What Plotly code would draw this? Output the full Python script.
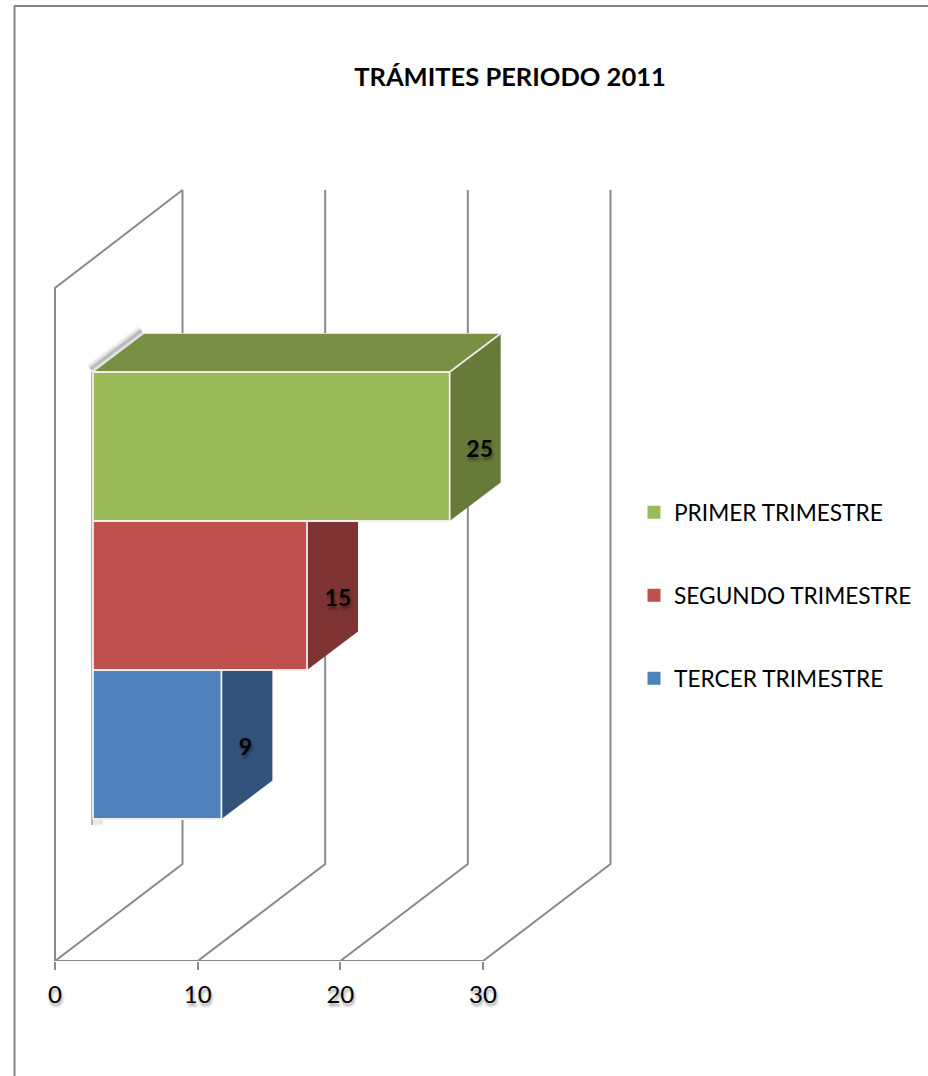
import plotly.graph_objects as go

# ---- data ----
categories = ["PRIMER TRIMESTRE", "SEGUNDO TRIMESTRE", "TERCER TRIMESTRE"]
values = [25, 15, 9]
label_shift_px = [30, 31, 24]
front_colors = ["#9BBB59", "#C0504D", "#4F81BD"]
side_colors = ["#667A3A", "#7D3432", "#31527B"]
top_colors = ["#789043", "#8E3E3C", "#3B618E"]
tick_values = [0, 10, 20, 30]
title_text = "TRÁMITES PERIODO 2011"

W, H = 928, 1076
AX_L, AX_R, AX_B, AX_T = 55, 483, 961, 6
PX_X = (AX_R - AX_L) / 30.0      # px per value unit
PX_Y = 149.0                     # px per category row
GREY = "#8A8A8A"
FONT = "Lato, Carlito, Calibri, sans-serif"
SHADOW = "1px 3px 3px rgba(0,0,0,0.4)"

# 3-D projection, expressed in axis units
wall_dx, wall_dy = 127.5 / PX_X, 97 / PX_Y
wall_front_top = (AX_B - 288) / PX_Y
wall_back_top = (AX_B - 190) / PX_Y
bar_x0 = 38 / PX_X
bar_base = (AX_B - 819) / PX_Y
bar_dx, bar_dy = 51 / PX_X, 38.5 / PX_Y

fig = go.Figure()


def line(xs, ys, color=GREY, width=2):
    fig.add_trace(go.Scatter(x=xs, y=ys, mode="lines", line=dict(color=color, width=width),
                             showlegend=False, hoverinfo="skip"))


def face(xs, ys, fill, edge="#EFEFEF", width=1.8):
    fig.add_trace(go.Scatter(x=xs + xs[:1], y=ys + ys[:1], mode="lines", fill="toself", fillcolor=fill,
                             line=dict(color=edge, width=width), showlegend=False, hoverinfo="skip"))


# axis line, walls and gridlines
line([tick_values[0], tick_values[-1]], [0, 0])
line([0, 0, wall_dx], [0, wall_front_top, wall_back_top])
for t in tick_values:
    line([t, t + wall_dx, t + wall_dx], [0, wall_dy, wall_back_top])

# soft shadow behind the first bar and the left edge
n = len(values)
top_y = bar_base + n
sx, sy = -2.5 / PX_X, 3 / PX_Y
for w, a in ((11, 0.07), (8, 0.10), (5, 0.16), (2.5, 0.28)):
    line([bar_x0 + sx, bar_x0 + bar_dx + sx], [top_y + sy, top_y + bar_dy + sy],
         color=f"rgba(110,110,110,{a})", width=w)
line([bar_x0 - 1 / PX_X, bar_x0 - 1 / PX_X], [bar_base - 6 / PX_Y, top_y], color="rgba(120,120,120,0.55)", width=2)
for w, a in ((8, 0.08), (5, 0.12)):
    line([bar_x0, bar_x0 + 10 / PX_X], [bar_base - 3 / PX_Y, bar_base - 3 / PX_Y],
         color=f"rgba(130,130,130,{a})", width=w)

# bars, nearest the axis first
for i in range(n - 1, -1, -1):
    v = values[i]
    y0 = bar_base + (n - 1 - i)
    y1 = y0 + 1
    x0, x1 = bar_x0, bar_x0 + v
    face([x0, x1, x1 + bar_dx, x0 + bar_dx], [y1, y1, y1 + bar_dy, y1 + bar_dy], top_colors[i],
         edge="rgba(240,240,240,0.7)", width=1)
    face([x1, x1 + bar_dx, x1 + bar_dx, x1], [y0, y0 + bar_dy, y1 + bar_dy, y1], side_colors[i],
         edge="rgba(240,240,240,0)", width=0.5)
    if i == 0:
        line([x1, x1 + bar_dx], [y1, y1 + bar_dy], color="#EFEFEF", width=1.6)
    face([x0, x1, x1, x0], [y0, y0, y1, y1], front_colors[i])

# value labels
fig.add_trace(go.Scatter(
    x=[bar_x0 + v + s / PX_X for v, s in zip(values, label_shift_px)],
    y=[bar_base + (n - 1 - i) + 0.5 - 4.5 / PX_Y for i in range(n)],
    mode="text", text=[str(v) for v in values], textposition="middle center",
    textfont=dict(family=FONT, size=23, color="black", weight="bold", shadow=SHADOW),
    showlegend=False, hoverinfo="skip"))

# legend entries
for c, col in zip(categories, front_colors):
    fig.add_trace(go.Scatter(x=[None], y=[None], mode="markers", name=c, legendgroup=c,
                             marker=dict(symbol="square", size=13, color=col)))

fig.update_layout(
    width=W, height=H, autosize=False,
    margin=dict(l=0, r=0, t=0, b=0, autoexpand=False),
    paper_bgcolor="white", plot_bgcolor="white",
    title=dict(text=title_text, x=510 / W, xanchor="center", y=1 - 77 / H, yanchor="middle",
               font=dict(family=FONT, size=25.5, color="black", weight="bold")),
    xaxis=dict(domain=[0, 1], range=[-AX_L / PX_X, (W - AX_L) / PX_X], tickmode="array", tickvals=tick_values,
               ticks="outside", ticklen=8, tickwidth=2, tickcolor=GREY, showgrid=False, zeroline=False,
               showline=False, ticklabelstandoff=4,
               tickfont=dict(family=FONT, size=24, color="black", shadow=SHADOW)),
    yaxis=dict(domain=[1 - AX_B / H, 1 - AX_T / H], range=[0, (AX_B - AX_T) / PX_Y], visible=False),
    legend=dict(x=634 / W, y=1 - 491 / H, xanchor="left", yanchor="top", bgcolor="rgba(0,0,0,0)",
                font=dict(family=FONT, size=22.7, color="black"), tracegroupgap=50.5,
                itemclick=False, itemdoubleclick=False),
    shapes=[
        dict(type="line", xref="paper", yref="paper", x0=14.5 / W, x1=14.5 / W, y0=0, y1=1 - 6 / H,
             line=dict(color="#858585", width=2)),
        dict(type="line", xref="paper", yref="paper", x0=14 / W, x1=1, y0=1 - 6 / H, y1=1 - 6 / H,
             line=dict(color="#858585", width=2)),
    ],
)
fig.write_html("out.html", config=dict(displayModeBar=False),
               post_script="document.body.style.margin='0';document.documentElement.style.overflow='hidden';")
